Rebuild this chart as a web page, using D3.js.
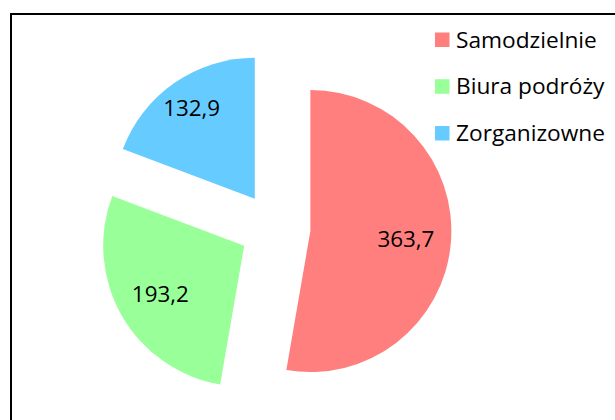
<!DOCTYPE html>
<html>
<head>
<meta charset="utf-8">
<script src="https://cdn.jsdelivr.net/npm/d3@7"></script>
<style>
  html, body { margin: 0; padding: 0; background: #fff; }
  svg { display: block; }
  text { font-family: "Open Sans", sans-serif; fill: #000; }
</style>
</head>
<body>
<svg id="chart" width="615" height="420"></svg>
<script>
// Tourist trips by type of organisation
const categories = ["Samodzielnie", "Biura podróży", "Zorganizowne"];
const values = [363.7, 193.2, 132.9];
const valueLabels = ["363,7", "193,2", "132,9"];
const colors = ["#FF7F7F", "#99FF99", "#66CCFF"];

const width = 615, height = 420;
const svg = d3.select("#chart");

// Frame line around the plot area (runs off the right and bottom edges)
svg.append("rect")
  .attr("x", 11).attr("y", 14)
  .attr("width", 640).attr("height", 440)
  .attr("fill", "none")
  .attr("stroke", "#000")
  .attr("stroke-width", 2);

const cx = 275, cy = 228, radius = 141, explode = 35.5;
// distance of each value label from its slice tip, as a share of the radius
const labelFactor = [0.68, 0.685, 0.787];

const pie = d3.pie().sort(null).startAngle(0).endAngle(2 * Math.PI);
const arcs = pie(values);
const arc = d3.arc().innerRadius(0).outerRadius(radius);
const mid = d => (d.startAngle + d.endAngle) / 2;

const g = svg.append("g").attr("transform", `translate(${cx},${cy})`);

const slice = g.selectAll("g.slice")
  .data(arcs)
  .join("g")
  .attr("class", "slice")
  .attr("transform", d =>
    `translate(${explode * Math.sin(mid(d))},${-explode * Math.cos(mid(d))})`);

slice.append("path")
  .attr("d", arc)
  .attr("fill", (d, i) => colors[i]);

slice.append("text")
  .attr("x", (d, i) => Math.sin(mid(d)) * radius * labelFactor[i])
  .attr("y", (d, i) => -Math.cos(mid(d)) * radius * labelFactor[i])
  .attr("dy", "0.357em")
  .attr("text-anchor", "middle")
  .attr("font-size", 22.4)
  .text((d, i) => valueLabels[i]);

// Legend
const legend = svg.append("g").attr("transform", "translate(435,0)");
const rowY = d3.scalePoint().domain(categories).range([39.5, 133]);
const item = legend.selectAll("g.item")
  .data(categories)
  .join("g")
  .attr("class", "item")
  .attr("transform", d => `translate(0,${rowY(d)})`);

item.append("rect")
  .attr("x", 0).attr("y", -7)
  .attr("width", 14.5).attr("height", 14.5)
  .attr("fill", (d, i) => colors[i]);

item.append("text")
  .attr("x", 21)
  .attr("y", 0)
  .attr("dy", "0.357em")
  .attr("font-size", 22.7)
  .text(d => d);
</script>
</body>
</html>
